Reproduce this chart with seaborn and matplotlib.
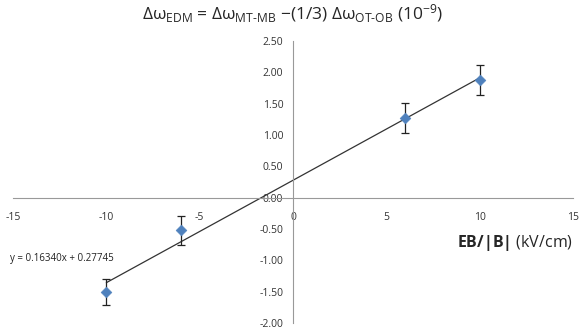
import numpy as np
import pandas as pd
import matplotlib
matplotlib.use("Agg")
import matplotlib.pyplot as plt
import seaborn as sns

# data
field = [-10, -6, 6, 10]
domega = [-1.50, -0.52, 1.27, 1.88]
err = [0.21, 0.23, 0.24, 0.24]
slope, intercept = 0.16340, 0.27745
x_ticks = [-15, -10, -5, 0, 5, 10, 15]
y_ticks = [-2.0, -1.5, -1.0, -0.5, 0.0, 0.5, 1.0, 1.5, 2.0, 2.5]

sns.set_style("white")
plt.rcParams["font.family"] = ["Open Sans", "DejaVu Sans"]
plt.rcParams["axes.unicode_minus"] = False
plt.rcParams["mathtext.fontset"] = "custom"
plt.rcParams["mathtext.rm"] = "Open Sans"
plt.rcParams["mathtext.it"] = "Open Sans"
plt.rcParams["mathtext.bf"] = "Open Sans:bold"

df = pd.DataFrame({"x": field, "y": domega, "err": err})
fit = pd.DataFrame({"x": [min(field), max(field)]})
fit["y"] = slope * fit["x"] + intercept

fig = plt.figure(figsize=(5.8, 3.31), dpi=100)
ax = fig.add_axes([13 / 580, 8 / 331, 560 / 580, 282 / 331])

sns.lineplot(data=fit, x="x", y="y", color="#333333", lw=0.9, ax=ax)
ax.errorbar(df["x"], df["y"], yerr=df["err"], fmt="none", ecolor="#222222",
            elinewidth=0.9, capsize=3, capthick=0.9, zorder=3)
sns.scatterplot(data=df, x="x", y="y", marker="D", s=30, color="#4F81BD",
                edgecolor="#4F81BD", zorder=4, ax=ax)

ax.set_xlim(-15, 15)
ax.set_ylim(-2.0, 2.5)
ax.set_xticks(x_ticks)
ax.set_yticks(y_ticks)
ax.set_yticklabels([f"{v:.2f}" for v in y_ticks])
ax.set_xlabel("")
ax.set_ylabel("")

for s in ["top", "right"]:
    ax.spines[s].set_visible(False)
ax.spines["left"].set_position(("data", 0))
ax.spines["bottom"].set_position(("data", 0))
for s in ["left", "bottom"]:
    ax.spines[s].set_color("#999999")
    ax.spines[s].set_linewidth(0.8)
ax.tick_params(axis="both", direction="out", length=4, width=0.8,
               color="#999999", labelsize=7.5, labelcolor="#333333", pad=3)
ax.tick_params(axis="x", pad=6)

ax.text(0.5, 1.095, r"$\Delta\omega_{\mathrm{EDM}}$ = $\Delta\omega_{\mathrm{MT\text{-}MB}}$ $-$(1/3) "
        r"$\Delta\omega_{\mathrm{OT\text{-}OB}}$ (10$^{-9}$)",
        transform=ax.transAxes, ha="center", va="center", fontsize=12.5)
ax.text(1.0, 0.285, r"$\mathbf{EB/|B|}$ (kV/cm)", transform=ax.transAxes,
        ha="right", va="center", fontsize=11.5)
ax.text(-0.005, 0.23, f"y = {slope:.5f}x + {intercept:.5f}", transform=ax.transAxes,
        ha="left", va="center", fontsize=7, color="#222222")

fig.savefig("out.png", dpi=100)
